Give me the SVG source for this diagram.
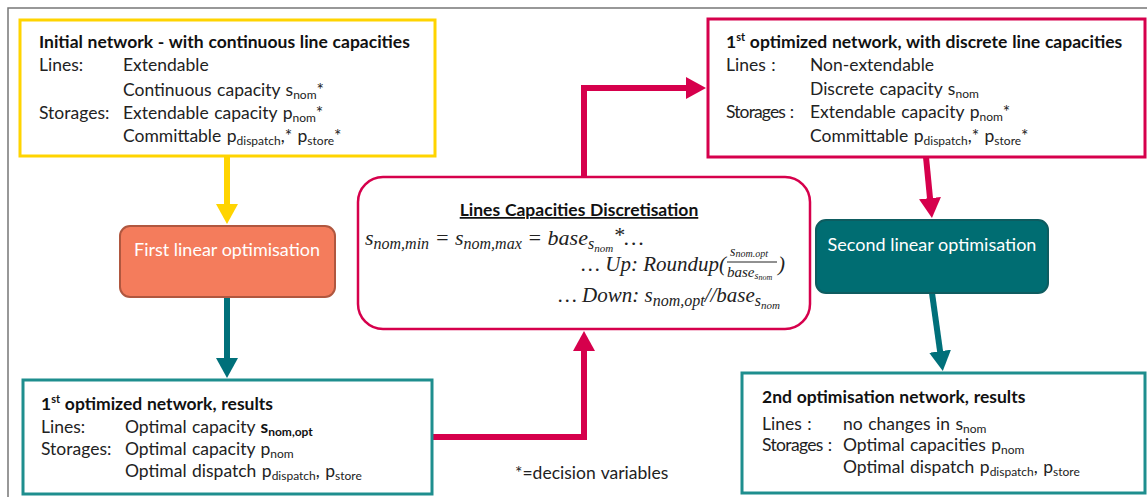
<svg xmlns="http://www.w3.org/2000/svg" width="1147" height="497" viewBox="0 0 1147 497">
<style>
.t{font-family:Lato,"Liberation Sans",sans-serif;font-size:17.5px;fill:#222;word-spacing:1px}
.b{font-family:Lato,"Liberation Sans",sans-serif;font-size:17.5px;font-weight:bold;fill:#111;word-spacing:0.5px}
.sub{font-size:12px;word-spacing:0}
.sup{font-size:11px}
.w{font-family:Lato,"Liberation Sans",sans-serif;font-size:18px;fill:#fff}
.m{font-family:"Liberation Serif",serif;font-style:italic;font-size:22px;fill:#222}
.ms{font-size:16px}
.mss{font-size:11px}
.frame{fill:none;stroke:#777;stroke-width:1.5}
.conn{fill:none;stroke-width:6}
</style>
<defs>
<marker id="ay" markerUnits="userSpaceOnUse" markerWidth="21" markerHeight="22" refX="1" refY="11" orient="auto"><path d="M0,0 L20,11 L0,22 z" fill="#FFD400"/></marker>
<marker id="at" markerUnits="userSpaceOnUse" markerWidth="21" markerHeight="22" refX="1" refY="11" orient="auto"><path d="M0,0 L20,11 L0,22 z" fill="#00707A"/></marker>
<marker id="ar" markerUnits="userSpaceOnUse" markerWidth="21" markerHeight="22" refX="1" refY="11" orient="auto"><path d="M0,0 L20,11 L0,22 z" fill="#D6004C"/></marker>
</defs>
<rect width="1147" height="497" fill="#fff"/>
<path class="frame" d="M8,497 V8 H1147"/>

<g id="connectors">
<path class="conn" stroke="#FFD400" d="M227,157 V205" marker-end="url(#ay)"/>
<path class="conn" stroke="#00707A" d="M227,297 V359" marker-end="url(#at)"/>
<path class="conn" stroke="#D6004C" d="M432,437 H584 V350" marker-end="url(#ar)"/>
<path class="conn" stroke="#D6004C" d="M584,176 V88 H687" marker-end="url(#ar)"/>
<path class="conn" stroke="#D6004C" d="M926,157 L930.1,199.1" marker-end="url(#ar)"/>
<path class="conn" stroke="#00707A" d="M932,293 L940.2,352.2" marker-end="url(#at)"/>
</g>

<g id="initial-network">
<rect x="20" y="20" width="415" height="136" fill="#fff" stroke="#FFD400" stroke-width="3"/>
<text class="b" x="39" y="48">Initial network - with continuous line capacities</text>
<text class="t" x="39" y="71">Lines:</text>
<text class="t" x="123" y="71">Extendable</text>
<text class="t" x="123" y="96">Continuous capacity s<tspan class="sub" dy="3">nom</tspan><tspan dy="-3">*</tspan></text>
<text class="t" x="39" y="119">Storages:</text>
<text class="t" x="123" y="119">Extendable capacity p<tspan class="sub" dy="3">nom</tspan><tspan dy="-3">*</tspan></text>
<text class="t" x="123" y="142">Committable p<tspan class="sub" dy="3">dispatch</tspan><tspan dy="-3">,* p</tspan><tspan class="sub" dy="3">store</tspan><tspan dy="-3">*</tspan></text>
</g>

<g id="first-linear-optimisation">
<rect x="120" y="226" width="215" height="71" rx="10" fill="#F47C5C" stroke="#B0573F" stroke-width="2"/>
<text class="w" x="227" y="256" text-anchor="middle">First linear optimisation</text>
</g>

<g id="first-results">
<rect x="23" y="380" width="409" height="114" fill="#fff" stroke="#1E8E8E" stroke-width="3"/>
<text class="b" x="41" y="410">1<tspan class="sup" dy="-7">st</tspan><tspan dy="7"> optimized network, results</tspan></text>
<text class="t" x="41" y="433">Lines:</text>
<text class="t" x="125" y="433">Optimal capacity <tspan font-weight="bold" fill="#111">s</tspan><tspan class="sub" font-weight="bold" fill="#111" dy="3">nom,opt</tspan></text>
<text class="t" x="41" y="455">Storages:</text>
<text class="t" x="125" y="455">Optimal capacity p<tspan class="sub" dy="3">nom</tspan></text>
<text class="t" x="125" y="477">Optimal dispatch p<tspan class="sub" dy="3">dispatch</tspan><tspan dy="-3">,  p</tspan><tspan class="sub" dy="3">store</tspan></text>
</g>

<g id="discretisation">
<rect x="358" y="177" width="452" height="152" rx="25" fill="#fff" stroke="#D6004C" stroke-width="2.5"/>
<text class="b" x="579" y="216" text-anchor="middle" text-decoration="underline">Lines Capacities Discretisation</text>
<text class="m" x="365" y="245">s<tspan class="ms" dy="4">nom,min</tspan><tspan dy="-4"> = s</tspan><tspan class="ms" dy="4">nom,max</tspan><tspan dy="-4"> = base</tspan><tspan class="ms" dy="4">s</tspan><tspan class="mss" dy="3">nom</tspan><tspan dy="-10">*</tspan><tspan dy="3">…</tspan></text>
<text class="m" x="726" y="271" text-anchor="end" style="font-size:21px">… Up: Roundup(</text>
<text class="m" x="730" y="256" style="font-size:14px">s<tspan style="font-size:10px" dy="1">nom.opt</tspan></text>
<line x1="727" y1="262" x2="777" y2="262" stroke="#222" stroke-width="1"/>
<text class="m" x="727" y="277" style="font-size:15px">base<tspan style="font-size:10px" dy="2">s</tspan><tspan style="font-size:8px" dy="1">nom</tspan></text>
<text class="m" x="778" y="271" style="font-size:21px">)</text>
<text class="m" x="780" y="302" text-anchor="end" style="font-size:21px">… Down: s<tspan class="ms" dy="4">nom,opt</tspan><tspan dy="-4">//base</tspan><tspan class="ms" dy="4">s</tspan><tspan class="mss" dy="3">nom</tspan></text>
</g>

<g id="first-discrete-network">
<rect x="708" y="19" width="437" height="138" fill="#fff" stroke="#D6004C" stroke-width="3"/>
<text class="b" x="726" y="48">1<tspan class="sup" dy="-7">st</tspan><tspan dy="7"> optimized network, with discrete line capacities</tspan></text>
<text class="t" x="726" y="71">Lines :</text>
<text class="t" x="810" y="71">Non-extendable</text>
<text class="t" x="810" y="95">Discrete capacity s<tspan class="sub" dy="3">nom</tspan></text>
<text class="t" x="726" y="118" textLength="68" lengthAdjust="spacing">Storages :</text>
<text class="t" x="810" y="118">Extendable capacity p<tspan class="sub" dy="3">nom</tspan><tspan dy="-3">*</tspan></text>
<text class="t" x="810" y="142">Committable p<tspan class="sub" dy="3">dispatch</tspan><tspan dy="-3">,* p</tspan><tspan class="sub" dy="3">store</tspan><tspan dy="-3">*</tspan></text>
</g>

<g id="second-linear-optimisation">
<rect x="816" y="220" width="232" height="73" rx="10" fill="#006D72" stroke="#0E5C60" stroke-width="2"/>
<text class="w" x="932" y="251" text-anchor="middle">Second linear optimisation</text>
</g>

<g id="second-results">
<rect x="742" y="373" width="403" height="120" fill="#fff" stroke="#1E8E8E" stroke-width="3"/>
<text class="b" x="762" y="403">2nd optimisation network, results</text>
<text class="t" x="762" y="430">Lines :</text>
<text class="t" x="843" y="430">no changes in s<tspan class="sub" dy="3">nom</tspan></text>
<text class="t" x="762" y="451" textLength="70" lengthAdjust="spacing">Storages :</text>
<text class="t" x="843" y="451">Optimal capacities p<tspan class="sub" dy="3">nom</tspan></text>
<text class="t" x="843" y="473">Optimal dispatch p<tspan class="sub" dy="3">dispatch</tspan><tspan dy="-3">,  p</tspan><tspan class="sub" dy="3">store</tspan></text>
</g>

<text class="t" x="515" y="479">*=decision variables</text>
</svg>
